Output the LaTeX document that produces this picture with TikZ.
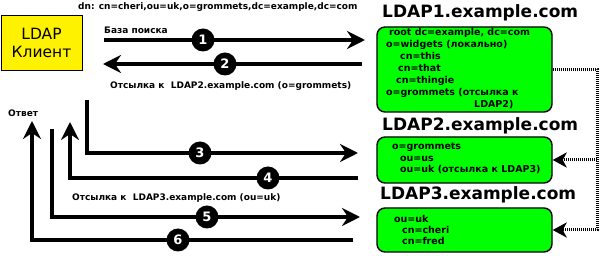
\documentclass[tikz,border=0pt]{standalone}
\usepackage{fontspec}
\setmainfont{DejaVu Sans}
\usetikzlibrary{arrows.meta, positioning}
\tikzset{
  client/.style={draw, fill=yellow, line width=0.8pt, minimum width=81pt, minimum height=55pt, align=center, inner sep=0pt, font=\fontsize{15.5}{18}\selectfont},
  server/.style={draw, line width=1.4pt, fill=green, rounded corners=8pt, minimum width=175pt},
  host/.style={anchor=west, inner sep=0pt, font=\fontsize{17}{17}\selectfont\bfseries},
  lbl/.style={anchor=west, inner sep=0pt, font=\fontsize{9}{9}\selectfont\bfseries},
  entries/.style={anchor=north west, inner sep=0pt, align=left, font=\fontsize{9.5}{12}\selectfont\bfseries},
  flow/.style={line width=4pt, -{Stealth[length=18pt, width=18pt, inset=6pt]}},
  num/.style={circle, fill=black, minimum size=23pt, inner sep=0pt, text=white, font=\fontsize{13}{13}\selectfont\bfseries},
  ref/.style={line width=3pt, dash pattern=on 1pt off 1pt, -{Stealth[length=14pt, width=15pt, inset=4pt]}},
}

\begin{document}
\begin{tikzpicture}[x=1pt, y=-1pt]
    \useasboundingbox (0,0) rectangle (600,256);
    % client and servers
    \node[client] (client) at (41.5,42.5) {LDAP\\Клиент};
    \node[server, minimum height=85pt] (ldap1) at (464.5,69.5) {};
    \node[server, minimum height=46pt] (ldap2) at (464.5,160) {};
    \node[server, minimum height=44pt] (ldap3) at (464.5,230) {};
    \node[host] (host1) at (382,13) {LDAP1.example.com};
    \node[host] (host2) at (382,126) {LDAP2.example.com};
    \node[host] (host3) at (380,195) {LDAP3.example.com};
    \node[entries] (tree1) at (386,28.5) {\hspace*{3pt}root dc=example, dc=com\\
      o=widgets (локально)\\
      \hspace*{14pt}cn=this\\
      \hspace*{12pt}cn=that\\
      \hspace*{10pt}cn=thingie\\
      o=grommets (отсылка к\\
      \hspace*{88pt}LDAP2)};
    \node[entries, font=\fontsize{9.5}{11.8}\selectfont\bfseries] (tree2) at (392,142.5) {o=grommets\\
      \hspace*{8pt}ou=us\\
      \hspace*{8pt}ou=uk (отсылка к LDAP3)};
    \node[entries, font=\fontsize{9.5}{10.7}\selectfont\bfseries] (tree3) at (394,215.5) {ou=uk\\
      \hspace*{8pt}cn=cheri\\
      \hspace*{8pt}cn=fred};
    % referrals between servers
    \coordinate (trunk) at (597,69.5);
    \draw[ref] (ldap1.east) -- (trunk) |- (ldap3.east);
    \draw[ref] (trunk |- ldap2.east) -- (ldap2.east);
    % request / reply arrows
    \coordinate (a1s) at (104,40);  \coordinate (a1e) at (365,40);
    \coordinate (a2s) at (362,64);  \coordinate (a2e) at (103,64);
    \coordinate (a3s) at (87,100);  \coordinate (a3c) at (87,153);  \coordinate (a3e) at (358,153);
    \coordinate (a4s) at (358,178); \coordinate (a4c) at (70,178);  \coordinate (a4e) at (70,122);
    \coordinate (a5s) at (52,129);  \coordinate (a5c) at (52,217);  \coordinate (a5e) at (360,217);
    \coordinate (a6s) at (353,240); \coordinate (a6c) at (32,240);  \coordinate (a6e) at (32,121);
    \draw[flow] (a1s) -- (a1e);
    \draw[flow] (a2s) -- (a2e);
    \draw[flow] (a3s) -- (a3c) -- (a3e);
    \draw[flow] (a4s) -- (a4c) -- (a4e);
    \draw[flow] (a5s) -- (a5c) -- (a5e);
    \draw[flow] (a6s) -- (a6c) -- (a6e);
    \node[num] (n1) at (203,40) {1};
    \node[num] (n2) at (225,64) {2};
    \node[num] (n3) at (200,153) {3};
    \node[num] (n4) at (268,178) {4};
    \node[num] (n5) at (207,217) {5};
    \node[num] (n6) at (178,240) {6};
    % labels
    \node[lbl] (dn) at (78,7) {dn: cn=cheri,ou=uk,o=grommets,dc=example,dc=com};
    \node[lbl] (base) at (104,30) {База поиска};
    \node[lbl] (ref2) at (110,86) {Отсылка к\ \ LDAP2.example.com (o=grommets)};
    \node[lbl] (answer) at (8,113) {Ответ};
    \node[lbl] (ref3) at (72,198) {Отсылка к\ \ LDAP3.example.com (ou=uk)};
\end{tikzpicture}
\end{document}
